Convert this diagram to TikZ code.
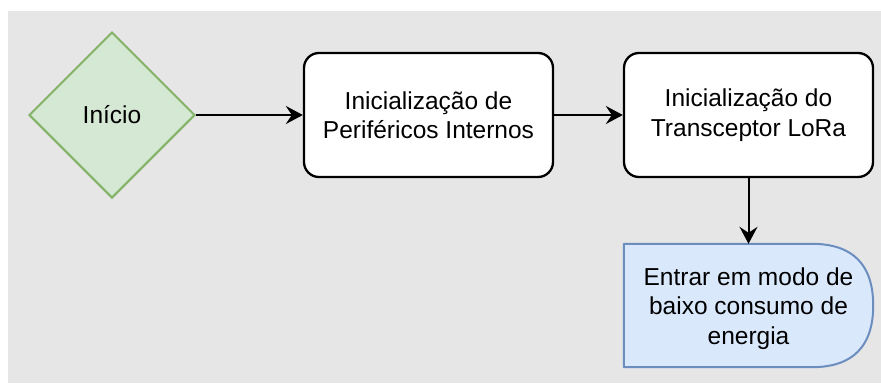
\documentclass[tikz,border=0pt]{standalone}
\usepackage{fontspec}
\setmainfont{Liberation Sans}
\usetikzlibrary{shapes.geometric,arrows.meta,calc}
\pgfdeclarelayer{background}
\pgfsetlayers{background,main}
\definecolor{bggray}{HTML}{E6E6E6}
\definecolor{greenfill}{HTML}{D5E8D4}
\definecolor{greenline}{HTML}{82B366}
\definecolor{bluefill}{HTML}{DAE8FC}
\definecolor{blueline}{HTML}{6C8EBF}
\begin{document}
\begin{tikzpicture}[x=1pt,y=-1pt,
  txt/.style={font=\fontsize{24.5}{29.5}\selectfont, align=center, text=black},
  startnode/.style={txt, diamond, aspect=1, draw=greenline, fill=greenfill, line width=2pt, minimum width=166pt, minimum height=166pt, inner sep=0pt},
  procbox/.style={txt, rectangle, rounded corners=15pt, draw=black, fill=white, line width=2.3pt, minimum width=249pt, minimum height=124pt, inner sep=0pt},
  delaybox/.style={rectangle, minimum width=249pt, minimum height=123pt, inner sep=0pt},
  flow/.style={line width=2pt, -{Stealth[length=17pt,width=18pt,inset=6pt]}}
]
\useasboundingbox (0,0) rectangle (881,383);
\begin{pgfonlayer}{background}
\fill[bggray] (8,11) rectangle (881,383);
\end{pgfonlayer}

\node[startnode] (s) at (112,115) {Início};
\node[procbox] (p1) at (428.5,115) {Inicialização de\\Periféricos Internos};
\node[procbox] (p2) at (748.5,115) {Inicialização do\\Transceptor LoRa};
\node[delaybox, label={[txt, yshift=-3pt]center:Entrar em modo de\\baixo consumo de\\energia}] (d) at (748.5,305.5) {};

\begin{pgfonlayer}{background}
\draw[draw=blueline, fill=bluefill, line width=2pt, line join=round]
  (d.north west) -- ($(d.north east)+(-61.5,0)$)
  .. controls ($(d.north east)+(-20.5,0)$) and ($(d.east)+(0,-41)$) .. (d.east)
  .. controls ($(d.east)+(0,41)$) and ($(d.south east)+(-20.5,0)$) .. ($(d.south east)+(-61.5,0)$)
  -- (d.south west) -- cycle;
\end{pgfonlayer}

\draw[flow] (s.east) -- (p1.west);
\draw[flow] (p1.east) -- (p2.west);
\draw[flow] (p2.south) -- (d.north);
\end{tikzpicture}
\end{document}
